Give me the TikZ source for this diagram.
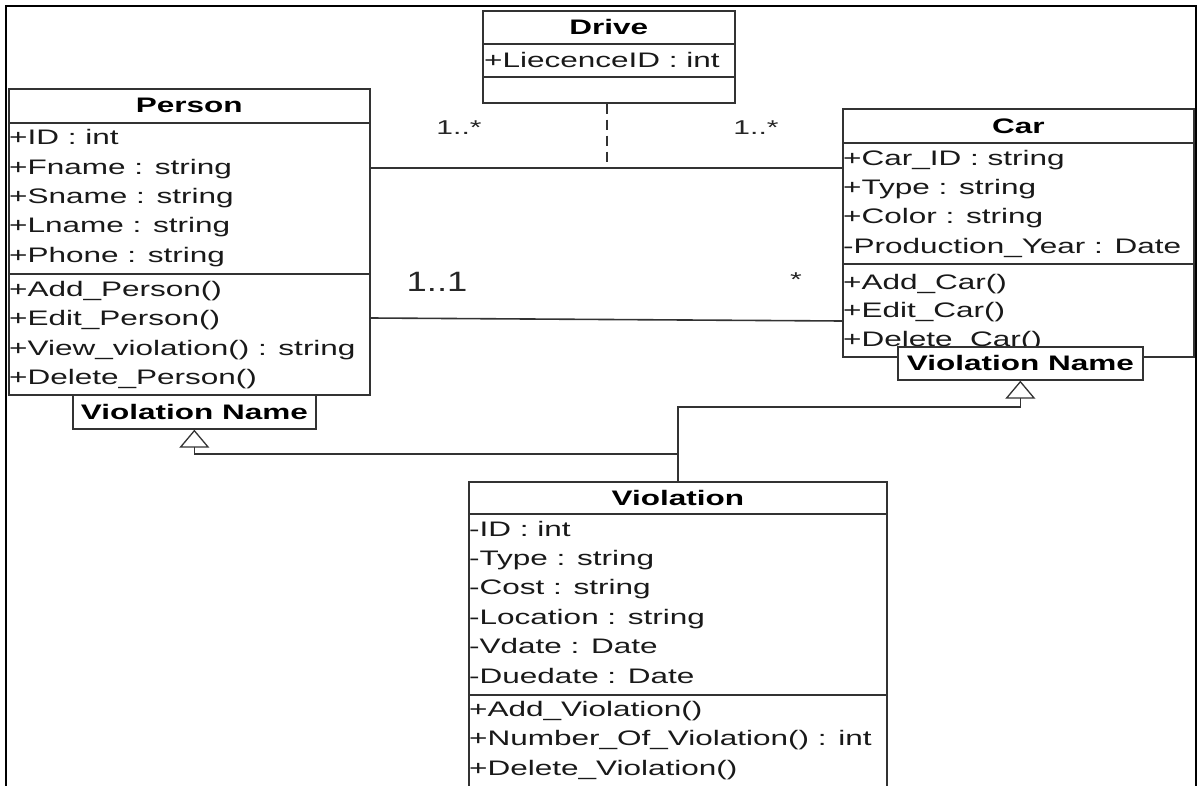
\documentclass[tikz,border=0pt]{standalone}
\usepackage{fontspec}
\setmainfont{Liberation Sans}[FakeStretch=1.5]
\newfontfamily\lblfont{Liberation Sans}[FakeStretch=1.3]
\usetikzlibrary{arrows.meta}
\tikzset{
  box/.style={draw=black!80, line width=1.7pt, fill=white, inner sep=0pt, anchor=north west},
  ttl/.style={box, font=\bfseries\fontsize{21}{24}\selectfont},
  mem/.style={anchor=base west, inner sep=0pt, font=\fontsize{21}{24}\selectfont, text=black!90},
  conn/.style={draw=black!80, line width=1.6pt},
  gen/.style={conn, -{Triangle[open, length=18pt, width=30pt, line width=1.3pt]}},
  lbl/.style={inner sep=0pt, font=\fontsize{20}{22}\selectfont, text=black!85},
  biglbl/.style={inner sep=0pt, font=\lblfont\fontsize{28}{30}\selectfont, text=black!85},
}
\begin{document}
\begin{tikzpicture}[x=1pt,y=-1pt]
\useasboundingbox (0,0) rectangle (1198,786);
\clip (0,0) rectangle (1198,786);
\fill[white] (0,0) rectangle (1198,786);
% outer frame
\draw[black, line width=2.5pt] (6,800) -- (6,6) -- (1196,6) -- (1196,800);

% ---------- Drive ----------
\node[ttl, minimum width=252pt, minimum height=33pt] (d-t) at (482,10) {Drive};
\node[box, minimum width=252pt, minimum height=33pt] (d-a) at (482,43) {};
\node[box, minimum width=252pt, minimum height=26pt] (d-o) at (482,76) {};
\node[mem] (d-a1) at (484,67.5) {+LiecenceID : int};

% ---------- Person ----------
\node[ttl, minimum width=361pt, minimum height=34pt] (p-t) at (8,88) {Person};
\node[box, minimum width=361pt, minimum height=151pt] (p-a) at (8,122) {};
\node[box, minimum width=361pt, minimum height=121pt] (p-o) at (8,273) {};
\foreach \t [count=\i] in {{+ID : int},{+Fname : string},{+Sname : string},{+Lname : string},{+Phone : string}}
  \node[mem] (p-a\i) at (9,{145+29.3*(\i-1)}) {\t};
\foreach \t [count=\i] in {{+Add\_Person()},{+Edit\_Person()},{+View\_violation() : string},{+Delete\_Person()}}
  \node[mem] (p-o\i) at (9,{296+29.6*(\i-1)}) {\t};
\node[ttl, minimum width=243pt, minimum height=34pt] (p-v) at (72,394) {Violation Name};

% ---------- Car ----------
\node[ttl, minimum width=351pt, minimum height=34pt] (c-t) at (842,108) {Car};
\node[box, minimum width=351pt, minimum height=121pt] (c-a) at (842,142) {};
\node[box, minimum width=351pt, minimum height=93pt] (c-o) at (842,263) {};
\foreach \t [count=\i] in {{+Car\_ID : string},{+Type : string},{+Color : string},{-Production\_Year : Date}}
  \node[mem] (c-a\i) at (843,{166+29*(\i-1)}) {\t};
\foreach \t [count=\i] in {{+Add\_Car()},{+Edit\_Car()},{+Delete\_Car()}}
  \node[mem] (c-o\i) at (843,{289+28.5*(\i-1)}) {\t};
\node[ttl, minimum width=245pt, minimum height=33pt] (c-v) at (897,346) {Violation Name};

% ---------- Violation ----------
\node[ttl, minimum width=418pt, minimum height=32pt] (v-t) at (468,481) {Violation};
\node[box, minimum width=418pt, minimum height=181pt] (v-a) at (468,513) {};
\node[box, minimum width=418pt, minimum height=110pt] (v-o) at (468,694) {};
\foreach \t [count=\i] in {{-ID : int},{-Type : string},{-Cost : string},{-Location : string},{-Vdate : Date},{-Duedate : Date}}
  \node[mem] (v-a\i) at (469,{536+29.4*(\i-1)}) {\t};
\foreach \t [count=\i] in {{+Add\_Violation()},{+Number\_Of\_Violation() : int},{+Delete\_Violation()}}
  \node[mem] (v-o\i) at (469,{716+29.5*(\i-1)}) {\t};

% ---------- associations ----------
\coordinate (as1) at (606,168);
\coordinate (as2) at (0,318);
\draw[conn] (p-a.east |- as1) -- (c-a.west |- as1);
\draw[conn, dash pattern=on 10pt off 6pt] ([xshift=-2pt]d-o.south) -- ([xshift=-2pt]d-o.south |- as1);
\draw[conn] (p-o.east |- as2) -- ([yshift=-3pt]c-o.west |- as2);

\node[lbl] (m1) at (459,128) {1..*};
\node[lbl] (m2) at (756,128) {1..*};
\node[biglbl] (m3) at (437,282) {1..1};
\node[lbl] (m4) at (796,280) {*};

% ---------- generalizations ----------
\coordinate (g1) at (0,454);
\coordinate (g2) at (0,407);
\draw[gen] (v-t.north) -- (v-t.north |- g1) -| (p-v.south);
\draw[gen] (v-t.north) -- (v-t.north |- g2) -| (c-v.south);
\end{tikzpicture}
\end{document}
